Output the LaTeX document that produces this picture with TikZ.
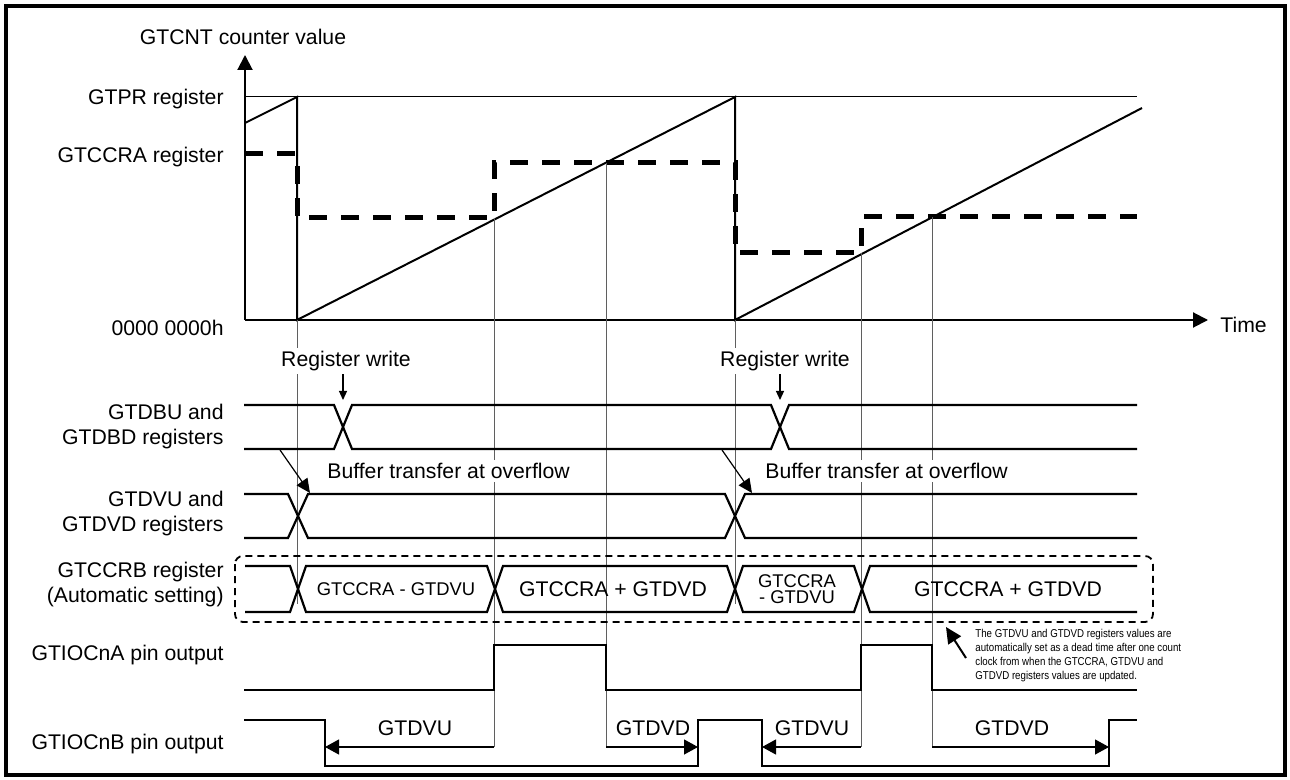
\documentclass[tikz,border=0pt]{standalone}
\usepackage{fontspec}
\setmainfont{Liberation Sans}
\newfontfamily\notefont[FakeStretch=0.85]{Liberation Sans}
\usepackage{tikz}
\usetikzlibrary{arrows.meta, positioning}
\definecolor{gridgray}{RGB}{95,95,95}

\begin{document}
\begin{tikzpicture}[x=0.5pt, y=-0.5pt,
    lbl/.style={anchor=east, align=right, inner sep=0pt,
                font=\fontsize{10.6}{12.5}\selectfont},
    txt/.style={inner sep=0pt, font=\fontsize{10.6}{12.5}\selectfont},
    cover/.style={txt, fill=white, inner sep=1.5pt},
    ccrbtxt/.style={inner sep=0pt, align=center, font=\fontsize{9.2}{8}\selectfont},
    sig/.style={line width=1.1pt, line join=miter},
    ramp/.style={line width=1pt},
    cmpline/.style={line width=2.5pt, dash pattern=on 9pt off 7pt},
    vline/.style={gridgray, line width=0.5pt},
    axisarrow/.style={line width=1pt, -{Triangle[length=7.5pt, width=7.5pt]}},
    dimarrow/.style={line width=0.6pt, -{Triangle[length=7pt, width=7.5pt]}},
    wrarrow/.style={line width=0.6pt, -{Triangle[length=4.5pt, width=4pt]}},
    bufarrow/.style={line width=0.6pt, -{Triangle[length=7pt, width=6.5pt]}},
    autobox/.style={line width=0.9pt, dash pattern=on 3.5pt off 2.5pt, rounded corners=4pt}
  ]
    \useasboundingbox (0,0) rectangle (1290,780);
    \draw[line width=1.6pt] (6,6) rectangle (1285,775);

    % counter graph
    \node[txt] at (243,37) (lblcnt) {GTCNT counter value};
    \coordinate (orig) at (245,320);
    \draw[axisarrow] (orig) -- (245,55);
    \draw[axisarrow] (orig) -- (1208,320);
    \node[txt, anchor=west] at (1220,325) (lbltime) {Time};
    \draw[line width=0.5pt] (245,97) -- (1137,97);
    \node[lbl] at (224,99) (lblgtpr) {GTPR register};
    \node[lbl] at (224,157) (lblgtccra) {GTCCRA register};
    \node[lbl] at (224,328) (lblzero) {0000 0000h};
    \draw[ramp] (245,123) -- (297,97) -- (297,320) -- (735,97) -- (735,320) -- (1142,108);
    \draw[cmpline] (245,154) -- (297,154) -- (297,218) -- (494,218) -- (494,163)
      -- (735,163) -- (735,253) -- (861,253) -- (861,217) -- (1137,217);

    % timing guide lines
    \draw[vline] (297,320) -- (297,604);
    \draw[vline] (735,320) -- (735,604);
    \draw[vline] (494,218) -- (494,747);
    \draw[vline] (606,163) -- (606,747);
    \draw[vline] (861,253) -- (861,747);
    \draw[vline] (932,217) -- (932,747);

    % left labels
    \node[lbl] at (224,427) (lbldbu) {GTDBU and\\GTDBD registers};
    \node[lbl] at (224,514) (lbldvu) {GTDVU and\\GTDVD registers};
    \node[lbl] at (224,585) (lblccrb) {GTCCRB register\\(Automatic setting)};
    \node[lbl] at (224,655) (lblioa) {GTIOCnA pin output};
    \node[lbl] at (224,744) (lbliob) {GTIOCnB pin output};

    % GTDBU / GTDBD
    \draw[sig] (244,405) -- (334,405) -- (352,449) -- (771,449) -- (789,405) -- (1137,405);
    \draw[sig] (244,449) -- (334,449) -- (352,405) -- (771,405) -- (789,449) -- (1137,449);
    \node[cover] at (346,361) (regw1) {Register write};
    \node[cover] at (785,361) (regw2) {Register write};
    \coordinate (wr1) at (343,400);
    \coordinate (wr2) at (780,400);
    \draw[wrarrow] (regw1.south -| wr1) -- (wr1);
    \draw[wrarrow] (regw2.south -| wr2) -- (wr2);

    % GTDVU / GTDVD
    \draw[sig] (244,494) -- (288,494) -- (308,538) -- (725,538) -- (745,494) -- (1137,494);
    \draw[sig] (244,538) -- (288,538) -- (308,494) -- (725,494) -- (745,538) -- (1137,538);
    \node[cover, anchor=west] at (324,471) (buf1) {Buffer transfer at overflow};
    \node[cover, anchor=west] at (762,471) (buf2) {Buffer transfer at overflow};
    \coordinate (bt1s) at (280,450);
    \coordinate (bt1e) at (310,493);
    \coordinate (bt2s) at (722,450);
    \coordinate (bt2e) at (752,493);
    \draw[bufarrow] (bt1s) -- (bt1e);
    \draw[bufarrow] (bt2s) -- (bt2e);

    % GTCCRB
    \draw[autobox] (235,556) rectangle (1153,622);
    \draw[sig] (245,566) -- (290,566) -- (306,612) -- (487,612) -- (503,566) -- (727,566)
      -- (743,612) -- (854,612) -- (870,566) -- (1137,566);
    \draw[sig] (245,612) -- (290,612) -- (306,566) -- (487,566) -- (503,612) -- (727,612)
      -- (743,566) -- (854,566) -- (870,612) -- (1137,612);
    \node[ccrbtxt] at (396,589) (ccrb1) {GTCCRA - GTDVU};
    \node[txt] at (613,589) (ccrb2) {GTCCRA + GTDVD};
    \node[ccrbtxt] at (797,589) (ccrb3) {GTCCRA\\- GTDVU};
    \node[txt] at (1008,589) (ccrb4) {GTCCRA + GTDVD};

    % note
    \node[inner sep=0pt, anchor=west, align=left, font=\notefont\fontsize{5.7}{7}\selectfont]
      at (975,656) (note) {The GTDVU and GTDVD registers values are\\automatically set as a dead time after one count\\clock from when the GTCCRA, GTDVU and\\GTDVD registers values are updated.};
    \coordinate (notetail) at (966,658);
    \coordinate (notetip) at (946,627);
    \draw[line width=1pt, -{Triangle[length=8pt, width=7.5pt]}] (notetail) -- (notetip);

    % pin outputs
    \draw[sig] (244,690) -- (494,690) -- (494,645) -- (606,645) -- (606,690) -- (861,690)
      -- (861,645) -- (932,645) -- (932,690) -- (1137,690);
    \draw[sig] (244,720) -- (325,720) -- (325,766) -- (698,766) -- (698,720) -- (762,720)
      -- (762,766) -- (1109,766) -- (1109,720) -- (1137,720);
    \draw[dimarrow] (494,747) -- (325,747);
    \draw[dimarrow] (606,747) -- (698,747);
    \draw[dimarrow] (861,747) -- (762,747);
    \draw[dimarrow] (932,747) -- (1109,747);
    \node[txt] at (415,728) (dvu1) {GTDVU};
    \node[txt] at (653,728) (dvd1) {GTDVD};
    \node[txt] at (812,728) (dvu2) {GTDVU};
    \node[txt] at (1012,728) (dvd2) {GTDVD};
  \end{tikzpicture}
\end{document}
